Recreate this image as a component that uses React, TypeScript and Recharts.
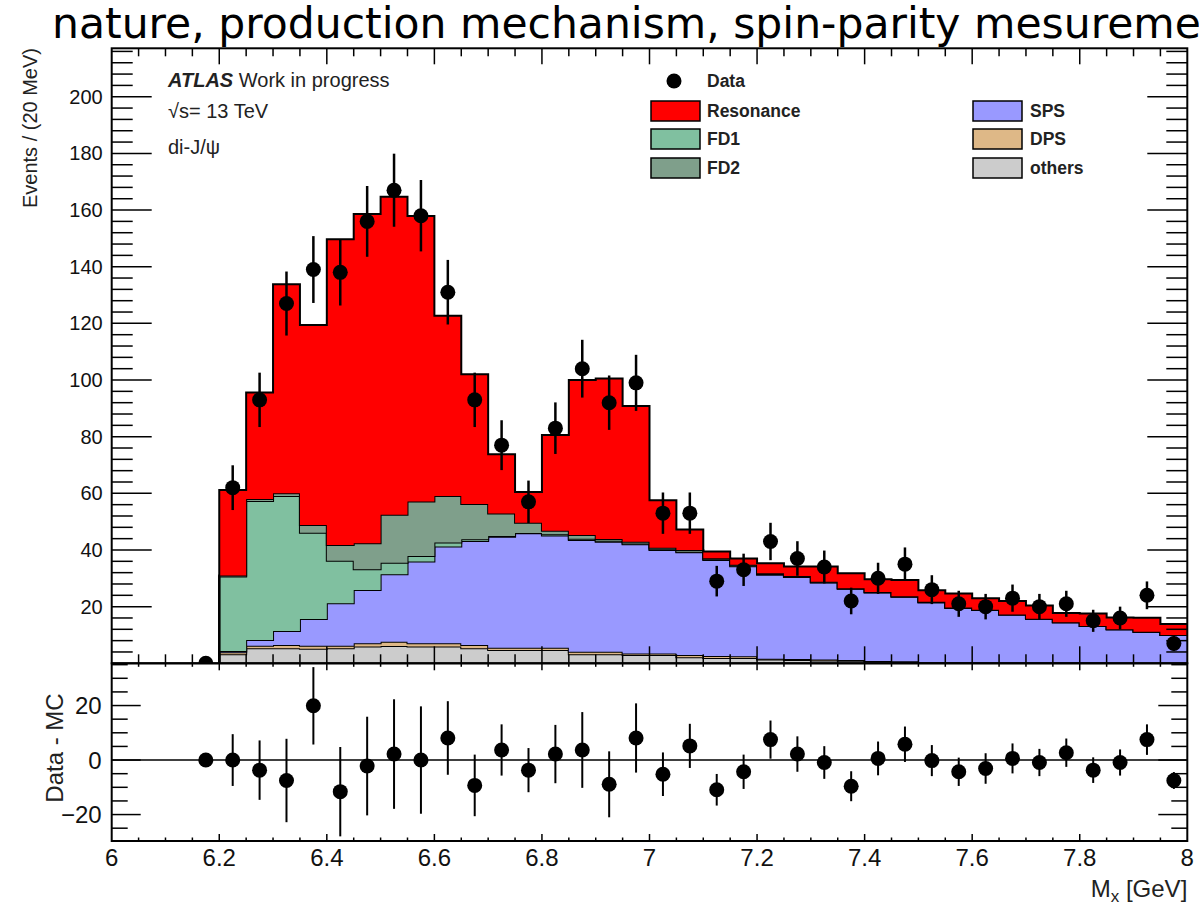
import React from 'react';
import { ComposedChart, Area, Scatter, ErrorBar, XAxis, YAxis, ReferenceLine } from 'recharts';

// bin low edges (20 MeV bins) and bin centres for the data points
const binLow = [6.2, 6.25, 6.3, 6.35, 6.4, 6.45, 6.5, 6.55, 6.6, 6.65, 6.7, 6.75, 6.8, 6.85, 6.9, 6.95,
  7.0, 7.05, 7.1, 7.15, 7.2, 7.25, 7.3, 7.35, 7.4, 7.45, 7.5, 7.55, 7.6, 7.65, 7.7, 7.75, 7.8, 7.85, 7.9, 7.95];
const binHigh = 8.0;
const massPoints = [6.175, 6.225, 6.275, 6.325, 6.375, 6.425, 6.475, 6.525, 6.575, 6.625, 6.675, 6.725,
  6.775, 6.825, 6.875, 6.925, 6.975, 7.025, 7.075, 7.125, 7.175, 7.225, 7.275, 7.325, 7.375, 7.425,
  7.475, 7.525, 7.575, 7.625, 7.675, 7.725, 7.775, 7.825, 7.875, 7.925, 7.975];

// stacked MC components, bottom to top
const others = [3.2, 5.3, 5.3, 5.1, 5.3, 5.9, 6.1, 5.9, 5.9, 5.3, 4.7, 4.7, 4.7, 3.2, 3.2, 2.9, 2.9, 2.1,
  1.9, 1.9, 1.3, 1.2, 1.0, 0.9, 0.6, 0.5, 0.3, 0.3, 0.2, 0.2, 0.2, 0.2, 0.2, 0.1, 0.1, 0.1];
const dps = [0.7, 0.9, 1.2, 1.1, 0.9, 1.2, 1.5, 1.2, 1.2, 1.2, 0.8, 0.8, 0.8, 0.9, 0.9, 0.6, 0.6, 0.8,
  0.7, 0.6, 0.3, 0.3, 0.3, 0.3, 0.2, 0.2, 0.1, 0.1, 0.1, 0.1, 0.1, 0.1, 0.1, 0.1, 0.1, 0.1];
const sps = [0.4, 2.0, 4.9, 9.4, 15.0, 18.8, 23.8, 28.8, 34.1, 36.7, 39.2, 40.4, 39.6, 39.4, 38.8, 38.5, 36.5, 36.3,
  33.9, 31.8, 29.7, 29.0, 27.2, 25.1, 24.2, 22.8, 21.1, 19.1, 18.5, 16.9, 15.4, 14.2, 12.9, 11.8, 10.9, 9.8];
const fd1 = [26.3, 49.1, 47.7, 30.5, 15.0, 7.3, 4.1, 2.0, 1.4, 0.6, 0.2, 0.1, 0.5, 0.5, 0.4, 0.3, 0.3, 0.2,
  0.2, 0.2, 0.2, 0.1, 0.1, 0.1, 0.1, 0.1, 0.1, 0.1, 0.1, 0, 0, 0, 0, 0, 0, 0];
const fd2 = [0.4, 0.7, 0.9, 2.7, 5.6, 9.2, 16.9, 19.2, 16.5, 12.4, 8.0, 3.6, 1.2, 1.3, 0.6, 0.6, 0.5, 0.6,
  0.4, 0.3, 0.3, 0.2, 0.2, 0.1, 0.1, 0.1, 0.1, 0.1, 0, 0, 0, 0, 0, 0, 0, 0];
const resonance = [30.2, 37.6, 73.8, 70.6, 107.9, 116.2, 112.3, 100.8, 63.6, 45.8, 20.9, 10.9, 33.8, 54.7, 56.6, 47.9, 16.8, 7.2,
  2.4, 2.2, 3.5, 3.4, 5.4, 5.3, 4.5, 5.7, 4.1, 4.9, 4.1, 4.8, 4.7, 3.3, 4.4, 4.2, 5.0, 3.9];

// data counts and errors
const dataCounts = [0, 62, 93, 127, 139, 138, 156, 167, 158, 131, 93, 77, 57, 83, 104, 92, 99, 53, 53,
  29, 33, 43, 37, 34, 22, 30, 35, 26, 21, 20, 23, 20, 21, 15, 16, 24, 7];
const dataErrors = [0, 7.9, 9.6, 11.3, 11.8, 11.7, 12.5, 12.9, 12.6, 11.4, 9.6, 8.8, 7.5, 9.1, 10.2, 9.6, 9.9, 7.3, 7.3,
  5.4, 5.7, 6.6, 6.1, 5.8, 4.7, 5.5, 5.9, 5.1, 4.6, 4.5, 4.8, 4.5, 4.6, 3.9, 4.0, 4.9, 2.6];

// data - MC residuals
const residuals = [0, 0, -3.7, -7.5, 19.9, -11.6, -2.2, 2.2, 0, 8.1, -9.3, 3.7, -3.7, 2.2, 3.7, -8.9, 8.1, -5.2, 5.2,
  -10.9, -4.3, 7.5, 2.2, -0.9, -9.6, 0.6, 5.8, -0.2, -4.3, -3.1, 0.6, -0.9, 2.7, -3.7, -0.9, 7.5, -7.5];
const residualErrors = [0, 9.5, 10.9, 15.3, 14.2, 16.4, 18.1, 20.1, 19.7, 13.5, 11.3, 9.4, 8.1, 10.7, 13.9, 12.1, 12.7, 8.0, 8.1,
  5.8, 6.3, 7.0, 6.5, 6.0, 5.5, 6.2, 6.5, 5.7, 5.2, 5.6, 5.5, 5.0, 5.2, 4.7, 4.8, 5.6, 3.1];

const series = [
  { key: 'others', label: 'others', color: '#cccccc', values: others },
  { key: 'dps', label: 'DPS', color: '#deb887', values: dps },
  { key: 'sps', label: 'SPS', color: '#9999ff', values: sps },
  { key: 'fd1', label: 'FD1', color: '#80c0a0', values: fd1 },
  { key: 'fd2', label: 'FD2', color: '#7f9f8b', values: fd2 },
  { key: 'resonance', label: 'Resonance', color: '#ff0000', values: resonance },
];

const rowAt = (x: number, i: number | null) => {
  const row: any = { x };
  series.forEach((s) => { row[s.key] = i === null ? 0 : s.values[i]; });
  return row;
};
const histRows = [rowAt(binLow[0], null), ...binLow.map((x, i) => rowAt(x, i)), rowAt(binHigh, binLow.length - 1)];
const dataRows = massPoints.map((x, i) => ({ x, y: dataCounts[i], err: dataErrors[i] }));
const residualRows = massPoints.map((x, i) => ({ x, y: residuals[i], err: residualErrors[i] }));

// frame geometry
const W = 1199;
const LEFT = 111.7;
const RIGHT = 1187.3;
const UP_TOP = 48.3;
const UP_BOTTOM = 663.3;
const LOW_BOTTOM = 841;
const FONT = '"Liberation Sans", Arial, Helvetica, sans-serif';

const step = (from: number, to: number, d: number) => {
  const out: number[] = [];
  for (let v = from; v <= to + 1e-9; v += d) out.push(Math.round(v * 1000) / 1000);
  return out;
};
const xTicksInner = step(6.05, 7.95, 0.05);
const xTicksAll = step(6, 8, 0.05);
const upperYTicks = step(4, 216, 4);
const lowerYTicks = step(-25, 35, 5);
const isMult = (v: number, m: number) => Math.abs(v / m - Math.round(v / m)) < 1e-6;

const UpperXTick = ({ x, payload }: any) => {
  const major = isMult(payload.value, 0.2);
  return (
    <g>
      <line x1={x} x2={x} y1={UP_BOTTOM} y2={UP_BOTTOM - (major ? 17 : 9)} stroke="#000" strokeWidth={1.5} />
      <line x1={x} x2={x} y1={UP_TOP} y2={UP_TOP + (major ? 16 : 8)} stroke="#000" strokeWidth={1.5} />
    </g>
  );
};

const UpperYTick = ({ y, payload }: any) => {
  const major = isMult(payload.value, 20);
  const len = major ? 40 : 21;
  return (
    <g>
      <line x1={LEFT} x2={LEFT + len} y1={y} y2={y} stroke="#000" strokeWidth={1.5} />
      <line x1={RIGHT - len} x2={RIGHT} y1={y} y2={y} stroke="#000" strokeWidth={1.5} />
      {major && (
        <text x={LEFT - 9} y={y + 7} textAnchor="end" fontSize={20} fontFamily={FONT} fill="#111">{payload.value}</text>
      )}
    </g>
  );
};

const LowerXTick = ({ x, payload }: any) => {
  const major = isMult(payload.value, 0.2);
  const len = major ? 7 : 3.5;
  const edge = payload.value === 6 || payload.value === 8;
  return (
    <g>
      {!edge && <line x1={x} x2={x} y1={UP_BOTTOM} y2={UP_BOTTOM + len} stroke="#000" strokeWidth={1.5} />}
      {!edge && <line x1={x} x2={x} y1={LOW_BOTTOM} y2={LOW_BOTTOM - len} stroke="#000" strokeWidth={1.5} />}
      {major && (
        <text x={x} y={LOW_BOTTOM + 25} textAnchor="middle" fontSize={24} fontFamily={FONT} fill="#111">
          {String(Number(payload.value.toFixed(1)))}
        </text>
      )}
    </g>
  );
};

const LowerYTick = ({ y, payload }: any) => {
  const major = isMult(payload.value, 20);
  const len = major ? 29 : 16;
  const v = payload.value;
  return (
    <g>
      <line x1={LEFT} x2={LEFT + len} y1={y} y2={y} stroke="#000" strokeWidth={1.5} />
      <line x1={RIGHT - len} x2={RIGHT} y1={y} y2={y} stroke="#000" strokeWidth={1.5} />
      {major && (
        <text x={LEFT - 10} y={y + 8.5} textAnchor="end" fontSize={24} fontFamily={FONT} fill="#111">
          {v < 0 ? '\u2212' + Math.abs(v) : String(v)}
        </text>
      )}
    </g>
  );
};

const Dot = (p: any) => <circle cx={p.cx} cy={p.cy} r={7.5} fill="#000" />;

const byKey = (k: string) => series.find((s) => s.key === k)!;
const legendLeft = ['resonance', 'fd1', 'fd2'].map(byKey);
const legendRight = ['sps', 'dps', 'others'].map(byKey);
const legendRows = [111, 139, 168];

export default function App() {
  return (
    <div style={{ position: 'absolute', left: 0, top: 0, width: W, height: 909, overflow: 'hidden', background: '#fff' }}>
      <div style={{ position: 'absolute', left: 0, top: 0 }}>
        <ComposedChart width={W} height={UP_BOTTOM + 1.2} data={histRows}
          margin={{ top: UP_TOP, right: W - RIGHT, bottom: 0.2, left: LEFT - 1 }}>
          {series.map((s) => (
            <Area key={s.key} dataKey={s.key} stackId="mc" type="stepAfter" fill={s.color} fillOpacity={1}
              stroke="#000" strokeWidth={2} isAnimationActive={false} dot={false} activeDot={false} />
          ))}
          <Scatter data={dataRows} dataKey="y" shape={Dot} isAnimationActive={false}>
            <ErrorBar dataKey="err" direction="y" width={0} stroke="#000" strokeWidth={2.5} />
          </Scatter>
          <XAxis dataKey="x" type="number" domain={[6, 8]} allowDataOverflow ticks={xTicksInner} interval={0}
            height={1} axisLine={false} tickLine={false} tickSize={0} tickMargin={0} tick={UpperXTick} />
          <YAxis type="number" domain={[0, 217.1]} allowDataOverflow ticks={upperYTicks} interval={0}
            width={1} axisLine={false} tickLine={false} tickSize={0} tickMargin={0} tick={UpperYTick} />
        </ComposedChart>
      </div>
      <div style={{ position: 'absolute', left: 0, top: 0 }}>
        <ComposedChart width={W} height={909}
          margin={{ top: UP_BOTTOM, right: W - RIGHT, bottom: 909 - LOW_BOTTOM - 1, left: LEFT - 1 }}>
          <ReferenceLine y={0} stroke="#000" strokeWidth={1.5} />
          <Scatter data={residualRows} dataKey="y" shape={Dot} isAnimationActive={false}>
            <ErrorBar dataKey="err" direction="y" width={0} stroke="#000" strokeWidth={2} />
          </Scatter>
          <XAxis dataKey="x" type="number" domain={[6, 8]} allowDataOverflow ticks={xTicksAll} interval={0}
            height={1} axisLine={false} tickLine={false} tickSize={0} tickMargin={0} tick={LowerXTick} />
          <YAxis type="number" domain={[-29.7, 35.5]} allowDataOverflow ticks={lowerYTicks} interval={0}
            width={1} axisLine={false} tickLine={false} tickSize={0} tickMargin={0} tick={LowerYTick} />
        </ComposedChart>
      </div>
      <svg width={W} height={909} style={{ position: 'absolute', left: 0, top: 0, pointerEvents: 'none' }}>
        <text x={52} y={38} fontFamily='"DejaVu Sans", sans-serif' fontSize={42.5} fill="#000">
          nature, production mechanism, spin-parity mesurement
        </text>
        <rect x={LEFT} y={UP_TOP} width={RIGHT - LEFT} height={UP_BOTTOM - UP_TOP} fill="none" stroke="#000" strokeWidth={2} />
        <rect x={LEFT} y={UP_BOTTOM} width={RIGHT - LEFT} height={LOW_BOTTOM - UP_BOTTOM} fill="none" stroke="#000" strokeWidth={2} />

        <text transform="translate(36.5,48) rotate(-90)" textAnchor="end" fontSize={20} fontFamily={FONT} fill="#222">
          Events / (20 MeV)
        </text>
        <text transform="translate(63,748) rotate(-90)" textAnchor="middle" fontSize={24} fontFamily={FONT} fill="#222">
          Data - MC
        </text>
        <text x={RIGHT} y={897} textAnchor="end" fontSize={24} fontFamily={FONT} fill="#222">
          M<tspan fontSize={17} dy={5}>x</tspan><tspan dy={-5}> [GeV]</tspan>
        </text>

        <text x={168} y={87} fontSize={20} fontFamily={FONT} fill="#222">
          <tspan fontWeight="bold" fontStyle="italic">ATLAS</tspan> Work in progress
        </text>
        <text x={168} y={118} fontSize={20} fontFamily={FONT} fill="#222">√s= 13 TeV</text>
        <text x={168} y={154} fontSize={20} fontFamily={FONT} fill="#222">di-J/ψ</text>

        <circle cx={674} cy={81} r={7.5} fill="#000" />
        <text x={707} y={87} fontSize={17.5} fontWeight="bold" fontFamily={FONT} fill="#222">Data</text>
        {legendLeft.map((s, i) => (
          <g key={s.key}>
            <rect x={651} y={legendRows[i] - 10} width={49} height={20} fill={s.color} stroke="#000" strokeWidth={1.5} />
            <text x={707} y={legendRows[i] + 6} fontSize={17.5} fontWeight="bold" fontFamily={FONT} fill="#222">{s.label}</text>
          </g>
        ))}
        {legendRight.map((s, i) => (
          <g key={s.key}>
            <rect x={973} y={legendRows[i] - 10} width={49} height={20} fill={s.color} stroke="#000" strokeWidth={1.5} />
            <text x={1030} y={legendRows[i] + 6} fontSize={17.5} fontWeight="bold" fontFamily={FONT} fill="#222">{s.label}</text>
          </g>
        ))}
      </svg>
    </div>
  );
}
